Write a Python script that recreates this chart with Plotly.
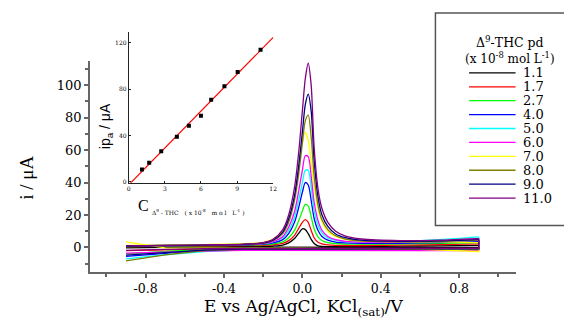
import numpy as np
import plotly.graph_objects as go

# page is 572x320; the plotly div sits 8px in from the page corner (body margin)
PAGE_OFF = 8
W, H = 572 - PAGE_OFF, 320 - PAGE_OFF

# ---------------- data ----------------
concentrations = ["1.1", "1.7", "2.7", "4.0", "5.0", "6.0", "7.0", "8.0", "9.0", "11.0"]
colors = ["#000000", "#FF0000", "#00FF00", "#0000FF", "#00FFFF",
          "#FF00FF", "#FFFF00", "#808000", "#000080", "#800080"]

potential_fwd = [-0.9, -0.7, -0.5, -0.3, -0.2, -0.15, -0.1, -0.07, -0.04, -0.02, 0.0,
                 0.015, 0.03, 0.045, 0.06, 0.08, 0.1, 0.13, 0.17, 0.22, 0.3, 0.5, 0.7, 0.9]
potential_rev = [0.9, 0.6, 0.3, 0.0, -0.3, -0.5, -0.7, -0.9]

cur_fwd_1_1 = [0.3, 0.4, 0.5, 0.6, 0.7, 0.9, 1.5, 2.8, 5.5, 8.5, 11.5, 11.0, 8.5, 5.0, 2.5, 1.0, 0.6, 0.5, 0.5, 0.5, 0.6, 0.8, 1.0, 1.3]
cur_fwd_1_7 = [0.5, 0.7, 0.9, 1.1, 1.3, 1.6, 2.5, 4.2, 7.5, 11.5, 15.5, 17.2, 15.5, 10.5, 6.0, 3.2, 2.2, 1.6, 1.3, 1.2, 1.2, 1.5, 1.8, 2.2]
cur_fwd_2_7 = [0.6, 0.9, 1.1, 1.4, 1.7, 2.2, 3.5, 6.0, 10.5, 16.0, 22.5, 26.5, 25.5, 19.0, 11.5, 6.5, 4.3, 3.0, 2.4, 2.1, 2.0, 2.2, 2.6, 3.0]
cur_fwd_4_0 = [0.7, 1.0, 1.3, 1.6, 2.0, 2.8, 4.8, 8.5, 15.5, 24.0, 34.0, 40.0, 38.5, 29.0, 18.0, 10.5, 6.8, 4.5, 3.3, 2.8, 2.5, 2.6, 3.0, 3.6]
cur_fwd_5_0 = [1.0, 1.3, 1.6, 2.0, 2.5, 3.5, 6.0, 10.5, 18.5, 28.5, 40.0, 47.5, 47.5, 37.0, 23.0, 13.5, 8.8, 5.8, 4.3, 3.6, 3.4, 3.8, 4.8, 6.5]
cur_fwd_6_0 = [0.8, 1.1, 1.4, 1.8, 2.4, 3.6, 6.8, 12.5, 22.0, 34.0, 47.5, 56.5, 56.0, 44.0, 28.0, 16.5, 10.5, 6.8, 4.8, 3.8, 3.3, 3.5, 4.2, 5.5]
cur_fwd_7_0 = [1.2, 1.5, 1.8, 2.3, 3.2, 5.0, 10.0, 18.0, 32.0, 48.0, 65.0, 71.0, 66.0, 53.0, 38.0, 24.0, 16.0, 10.0, 6.8, 5.0, 4.0, 3.6, 3.4, 3.0]
cur_fwd_8_0 = [0.9, 1.2, 1.5, 1.9, 2.7, 4.2, 8.5, 15.5, 29.0, 44.0, 64.0, 78.0, 81.5, 68.0, 44.0, 26.0, 17.0, 11.0, 7.2, 5.2, 4.0, 3.5, 3.8, 4.5]
cur_fwd_9_0 = [0.9, 1.2, 1.5, 1.9, 2.8, 4.5, 9.5, 17.5, 32.0, 49.0, 71.0, 88.0, 94.5, 84.0, 54.0, 31.0, 20.0, 13.0, 8.3, 6.0, 4.5, 3.8, 4.0, 4.8]
cur_fwd_11_0 = [1.0, 1.3, 1.6, 2.0, 3.0, 5.0, 11.0, 20.0, 37.0, 57.0, 84.0, 104.0, 113.5, 100.0, 62.0, 36.0, 24.0, 15.5, 10.0, 7.0, 5.2, 4.2, 4.5, 5.5]

cur_rev_1_1 = [0.0, 0.1, 0.2, 0.3, 0.3, 0.2, 0.0, -0.3]
cur_rev_1_7 = [-1.2, -1.2, -1.1, -1.0, -1.0, -1.1, -1.5, -2.0]
cur_rev_2_7 = [-0.8, -0.9, -0.9, -0.9, -1.0, -1.3, -2.5, -4.0]
cur_rev_4_0 = [-1.0, -1.0, -1.0, -1.0, -1.2, -1.8, -3.5, -5.5]
cur_rev_5_0 = [-1.5, -1.5, -1.4, -1.3, -1.5, -2.5, -4.5, -7.0]
cur_rev_6_0 = [-2.0, -1.9, -1.8, -1.7, -1.8, -2.2, -2.8, -3.5]
cur_rev_7_0 = [-2.5, -1.2, -0.8, -0.6, -0.6, -0.5, -0.3, 3.5]
cur_rev_8_0 = [-1.0, -1.0, -1.0, -1.0, -1.2, -2.0, -4.5, -8.3]
cur_rev_9_0 = [-0.8, -0.8, -0.8, -0.8, -1.0, -1.6, -3.0, -4.7]
cur_rev_11_0 = [-0.5, -0.5, -0.5, -0.5, -0.6, -0.8, -1.2, -1.8]

current_fwd = [cur_fwd_1_1, cur_fwd_1_7, cur_fwd_2_7, cur_fwd_4_0, cur_fwd_5_0,
               cur_fwd_6_0, cur_fwd_7_0, cur_fwd_8_0, cur_fwd_9_0, cur_fwd_11_0]
current_rev = [cur_rev_1_1, cur_rev_1_7, cur_rev_2_7, cur_rev_4_0, cur_rev_5_0,
               cur_rev_6_0, cur_rev_7_0, cur_rev_8_0, cur_rev_9_0, cur_rev_11_0]

# inset calibration data
inset_conc = [1.1, 1.7, 2.7, 4.0, 5.0, 6.0, 6.85, 7.95, 9.05, 10.95]
inset_ipa = [10.5, 16.3, 26.3, 38.9, 48.3, 57.1, 70.8, 82.6, 94.9, 114.0]

main_xticks = [-0.8, -0.4, 0.0, 0.4, 0.8]
main_xticktext = ["-0.8", "-0.4", "0.0", "0.4", "0.8"]
main_yticks = [0, 20, 40, 60, 80, 100]
main_yticktext = ["0", "20", "40", "60", "80", "100"]
inset_xticks = [0, 3, 6, 9, 12]
inset_yticks = [0, 40, 80, 120]

# ---------------- figure ----------------
SERIF = "DejaVu Serif"
TIMES = "Liberation Serif"
AXC = "#666666"


def px(x):
    return (x - PAGE_OFF) / W


def py(y):
    return 1 - (y - PAGE_OFF) / H


fig = go.Figure()

for i, c in enumerate(concentrations):
    fig.add_trace(go.Scatter(
        x=potential_fwd, y=current_fwd[i], mode="lines",
        line=dict(color=colors[i], width=1.3, shape="spline", smoothing=0.8),
        showlegend=False, hoverinfo="skip"))
    fig.add_trace(go.Scatter(
        x=[potential_fwd[-1]] + potential_rev, y=[current_fwd[i][-1]] + current_rev[i],
        mode="lines", line=dict(color=colors[i], width=1.3),
        showlegend=False, hoverinfo="skip"))

# inset
slope, intercept = np.polyfit(inset_conc, inset_ipa, 1)
fit_x = np.array([0.0, 12.0])
fig.add_trace(go.Scatter(x=fit_x, y=slope * fit_x + intercept, mode="lines",
                         line=dict(color="#FF0000", width=1.2),
                         xaxis="x2", yaxis="y2", showlegend=False, hoverinfo="skip"))
fig.add_trace(go.Scatter(x=inset_conc, y=inset_ipa, mode="markers",
                         marker=dict(symbol="square", size=4, color="#000000"),
                         xaxis="x2", yaxis="y2", showlegend=False, hoverinfo="skip"))

fig.update_layout(
    width=W, height=H, margin=dict(l=0, r=0, t=0, b=0),
    paper_bgcolor="white", plot_bgcolor="white", showlegend=False,
    xaxis=dict(domain=[px(89), px(519)], range=[-1.083, 1.088],
               tickvals=main_xticks, ticktext=main_xticktext,
               showline=True, linecolor=AXC, linewidth=2,
               ticks="outside", ticklen=4, tickcolor=AXC, tickwidth=1.5,
               minor=dict(dtick=0.2, tick0=0, ticks="outside", ticklen=3, tickcolor=AXC, tickwidth=1.5),
               showgrid=False, zeroline=False,
               tickfont=dict(family=SERIF, size=12.5, color="#000"), anchor="y"),
    yaxis=dict(domain=[py(274), py(61)], range=[-15.3, 115.1],
               tickvals=main_yticks, ticktext=main_yticktext,
               showline=True, linecolor=AXC, linewidth=2,
               ticks="outside", ticklen=4, tickcolor=AXC, tickwidth=1.5,
               minor=dict(dtick=10, tick0=0, ticks="outside", ticklen=3, tickcolor=AXC, tickwidth=1.5),
               showgrid=False, zeroline=False,
               tickfont=dict(family=SERIF, size=13, color="#000"), anchor="x"),
    xaxis2=dict(domain=[px(128), px(274)], range=[0, 12], anchor="y2",
                tickvals=inset_xticks, showline=True, linecolor="#222", linewidth=1,
                ticks="inside", ticklen=2, tickcolor="#222",
                showgrid=False, zeroline=False,
                tickfont=dict(family=SERIF, size=6, color="#000")),
    yaxis2=dict(domain=[py(184), py(32)], range=[-1, 129.5], anchor="x2",
                tickvals=inset_yticks, showline=True, linecolor="#222", linewidth=1,
                ticks="inside", ticklen=2, tickcolor="#222",
                showgrid=False, zeroline=False,
                tickfont=dict(family=SERIF, size=6, color="#000")),
)

annotations = [
    dict(text="i / μA", x=px(25), y=py(179), textangle=-90, showarrow=False,
         xref="paper", yref="paper", xanchor="center", yanchor="middle",
         font=dict(family=TIMES, size=19, color="#000")),
    dict(text="E vs Ag/AgCl, KCl<sub>(sat)</sub>/V", x=px(305), y=py(309), showarrow=False,
         xref="paper", yref="paper", xanchor="center", yanchor="middle",
         font=dict(family=SERIF, size=17, color="#000")),
    dict(text="ip<sub>a</sub> / μA", x=px(105), y=py(127), textangle=-90, showarrow=False,
         xref="paper", yref="paper", xanchor="center", yanchor="middle",
         font=dict(family="Liberation Sans", size=14, color="#000")),
    dict(text="C", x=px(143), y=py(207), showarrow=False,
         xref="paper", yref="paper", xanchor="center", yanchor="middle",
         font=dict(family=TIMES, size=16, color="#000")),
    dict(text="Δ<sup>9</sup> - THC   ( x 10<sup>-8</sup>   m o l   L<sup>-1</sup> )",
         x=px(150), y=py(213), showarrow=False,
         xref="paper", yref="paper", xanchor="left", yanchor="middle",
         font=dict(family=SERIF, size=6, color="#000")),
    dict(text="Δ<sup>9</sup>-THC pd", x=px(513), y=py(42), showarrow=False,
         xref="paper", yref="paper", xanchor="center", yanchor="middle",
         font=dict(family=SERIF, size=12.5, color="#000")),
    dict(text="(x 10<sup>-8</sup> mol L<sup>-1</sup>)", x=px(513), y=py(58), showarrow=False,
         xref="paper", yref="paper", xanchor="center", yanchor="middle",
         font=dict(family=SERIF, size=12, color="#000")),
]

shapes = [dict(type="rect", xref="paper", yref="paper",
               x0=px(438), x1=px(600), y0=py(227), y1=py(13),
               line=dict(color="#555555", width=1.5), fillcolor="rgba(0,0,0,0)")]

for i, c in enumerate(concentrations):
    yy = 73.3 + i * 14.0
    shapes.append(dict(type="line", xref="paper", yref="paper",
                       x0=px(472), x1=px(519), y0=py(yy), y1=py(yy),
                       line=dict(color=colors[i], width=1.3)))
    annotations.append(dict(text=c, x=px(524), y=py(yy), showarrow=False,
                            xref="paper", yref="paper", xanchor="left", yanchor="middle",
                            font=dict(family=SERIF, size=13, color="#000")))

fig.update_layout(annotations=annotations, shapes=shapes)

fig.write_html("out.html")
